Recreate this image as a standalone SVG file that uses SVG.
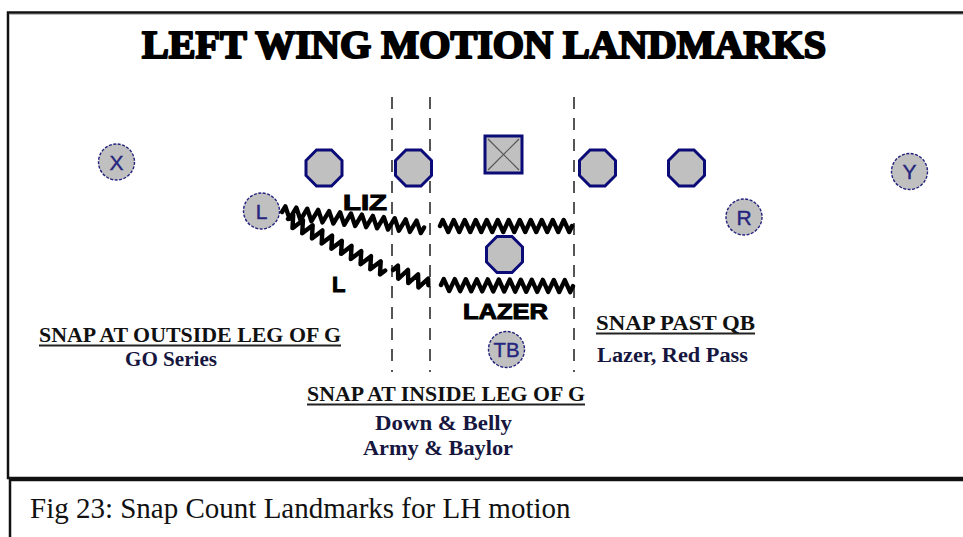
<svg xmlns="http://www.w3.org/2000/svg" xmlns:xlink="http://www.w3.org/1999/xlink" width="963" height="537" viewBox="0 0 963 537">
  <style>
    .frame { fill: none; stroke: #111; stroke-width: 2.5; }
    .yard { stroke: #555; stroke-width: 2; stroke-dasharray: 12 9; fill: none; }
    .lineman { fill: #c0c0c0; stroke: #0b0b78; stroke-width: 3; }
    .back { fill: #c0c0c0; stroke: #22227d; stroke-width: 1.4; stroke-dasharray: 3 1.5; }
    .tag { font-family: "Liberation Sans", Arial, sans-serif; font-size: 21px; fill: #25257f; stroke: #25257f; stroke-width: 0.4; text-anchor: middle; }
    .zig { fill: none; stroke: #000; stroke-width: 4.4; stroke-linejoin: round; stroke-linecap: round; }
    .route { font-family: "Liberation Sans", Arial, sans-serif; font-weight: bold; font-size: 22px; fill: #000; stroke: #000; stroke-width: 1; }
    .head { font-family: "Liberation Serif", "Times New Roman", serif; font-weight: bold; font-size: 22px; fill: #111; }
    .sub { font-family: "Liberation Serif", "Times New Roman", serif; font-weight: bold; font-size: 20px; fill: #16163f; }
    .uline { stroke: #222; stroke-width: 2; }
  </style>
  <defs>
    <path id="oct" d="M-7.5 -18 L7.5 -18 L18 -7.5 L18 7.5 L7.5 18 L-7.5 18 L-18 7.5 L-18 -7.5 Z"/>
    <path id="zig132" d="M0 0l2.75 -6l5.5 12l5.5 -12l5.5 12l5.5 -12l5.5 12l5.5 -12l5.5 12l5.5 -12l5.5 12l5.5 -12l5.5 12l5.5 -12l5.5 12l5.5 -12l5.5 12l5.5 -12l5.5 12l5.5 -12l5.5 12l5.5 -12l5.5 12l5.5 -12l5.5 12l2.75 -6"/>
  </defs>

  <rect width="963" height="537" fill="#fff"/>

  <!-- outer frame and caption box -->
  <rect class="frame" x="8" y="12.5" width="970" height="465.5"/>
  <line x1="9" y1="14.5" x2="963" y2="14.5" stroke="#bbb" stroke-width="1"/>
  <rect class="frame" x="10" y="480" width="970" height="80"/>

  <!-- title -->
  <text x="142" y="58" font-family="'Liberation Serif', 'Times New Roman', serif" font-weight="bold" font-size="40" fill="#000" stroke="#000" stroke-width="2.2" stroke-linejoin="round" textLength="684" lengthAdjust="spacingAndGlyphs">LEFT WING MOTION LANDMARKS</text>

  <!-- landmark lines -->
  <g id="landmarks">
    <line class="yard" x1="392" y1="97" x2="392" y2="372"/>
    <line class="yard" x1="430" y1="97" x2="430" y2="372"/>
    <line class="yard" x1="574" y1="97" x2="574" y2="372"/>
  </g>

  <!-- motion paths -->
  <g id="connectors">
    <path class="zig" transform="translate(282 212) rotate(6.2)" d="M0 0l2.75 -6l5.5 12l5.5 -12l5.5 12l5.5 -12l5.5 12l5.5 -12l5.5 12l5.5 -12l5.5 12l5.5 -12l5.5 12l5.5 -12l5.5 12l5.5 -12l5.5 12l5.5 -12l5.5 12l5.5 -12l5.5 12l5.5 -12l5.5 12l5.5 -12l5.5 12l5.5 -12l5.5 12l2.75 -6"/>
    <use class="zig" xlink:href="#zig132" href="#zig132" transform="translate(440 226)"/>
    <path class="zig" transform="translate(288 219) rotate(27.9)" d="M0 0l2.75 -6l5.5 12l5.5 -12l5.5 12l5.5 -12l5.5 12l5.5 -12l5.5 12l5.5 -12l5.5 12l5.5 -12l5.5 12l5.5 -12l5.5 12l5.5 -12l5.5 12l5.5 -12l5.5 12l5.5 -12l5.5 12l2.75 -6"/>
    <path class="zig" transform="translate(393 270) rotate(23.4)" d="M0 0l2.75 -6l5.5 12l5.5 -12l5.5 12l5.5 -12l5.5 12l5.5 -12l2.75 6"/>
    <use class="zig" xlink:href="#zig132" href="#zig132" transform="translate(441 285) rotate(0.5)"/>
  </g>

  <!-- offensive line -->
  <g id="lt"><use class="lineman" xlink:href="#oct" href="#oct" transform="translate(324 168)"/></g>
  <g id="lg"><use class="lineman" xlink:href="#oct" href="#oct" transform="translate(413.5 168)"/></g>
  <g id="center">
    <rect class="lineman" x="485" y="136" width="37" height="37"/>
    <line x1="488" y1="139" x2="519" y2="170" stroke="#555" stroke-width="1.2"/>
    <line x1="519" y1="139" x2="488" y2="170" stroke="#555" stroke-width="1.2"/>
  </g>
  <g id="rg"><use class="lineman" xlink:href="#oct" href="#oct" transform="translate(597.5 168)"/></g>
  <g id="rt"><use class="lineman" xlink:href="#oct" href="#oct" transform="translate(686.5 168)"/></g>
  <g id="qb"><use class="lineman" xlink:href="#oct" href="#oct" transform="translate(504.5 254.5)"/></g>

  <!-- skill players -->
  <g id="x"><circle class="back" cx="116.5" cy="162" r="18"/><text class="tag" x="116.5" y="169.5">X</text></g>
  <g id="l"><circle class="back" cx="261.5" cy="211" r="18"/><text class="tag" x="261.5" y="218.5">L</text></g>
  <g id="r"><circle class="back" cx="744" cy="217" r="18"/><text class="tag" x="744" y="224.5">R</text></g>
  <g id="y"><circle class="back" cx="909.5" cy="171.5" r="18"/><text class="tag" x="909.5" y="179">Y</text></g>
  <g id="tb"><circle class="back" cx="506.5" cy="349.5" r="18"/><text class="tag" x="506.5" y="357" textLength="26" lengthAdjust="spacingAndGlyphs">TB</text></g>

  <!-- route names -->
  <text class="route" x="343" y="210" textLength="44" lengthAdjust="spacingAndGlyphs">LIZ</text>
  <text class="route" x="332" y="292">L</text>
  <text class="route" x="463" y="319" textLength="85" lengthAdjust="spacingAndGlyphs">LAZER</text>

  <!-- landmark notes -->
  <g id="outside-leg">
    <text class="head" x="39" y="342" textLength="302" lengthAdjust="spacingAndGlyphs">SNAP AT OUTSIDE LEG OF G</text>
    <line class="uline" x1="39" y1="345.5" x2="341" y2="345.5"/>
    <text class="sub" x="125" y="366" textLength="92" lengthAdjust="spacingAndGlyphs">GO Series</text>
  </g>
  <g id="inside-leg">
    <text class="head" x="307" y="401" textLength="278" lengthAdjust="spacingAndGlyphs">SNAP AT INSIDE LEG OF G</text>
    <line class="uline" x1="307" y1="404.5" x2="585" y2="404.5"/>
    <text class="sub" x="375" y="430" textLength="137" lengthAdjust="spacingAndGlyphs">Down &amp; Belly</text>
    <text class="sub" x="363" y="455" textLength="150" lengthAdjust="spacingAndGlyphs">Army &amp; Baylor</text>
  </g>
  <g id="past-qb">
    <text class="head" x="596" y="330" textLength="159" lengthAdjust="spacingAndGlyphs">SNAP PAST QB</text>
    <line class="uline" x1="596" y1="333.5" x2="755" y2="333.5"/>
    <text class="sub" x="597" y="362" textLength="151" lengthAdjust="spacingAndGlyphs">Lazer, Red Pass</text>
  </g>

  <!-- caption -->
  <text x="30" y="518" font-family="'Liberation Serif', 'Times New Roman', serif" font-size="29" fill="#111">Fig 23: Snap Count Landmarks for LH motion</text>
</svg>
